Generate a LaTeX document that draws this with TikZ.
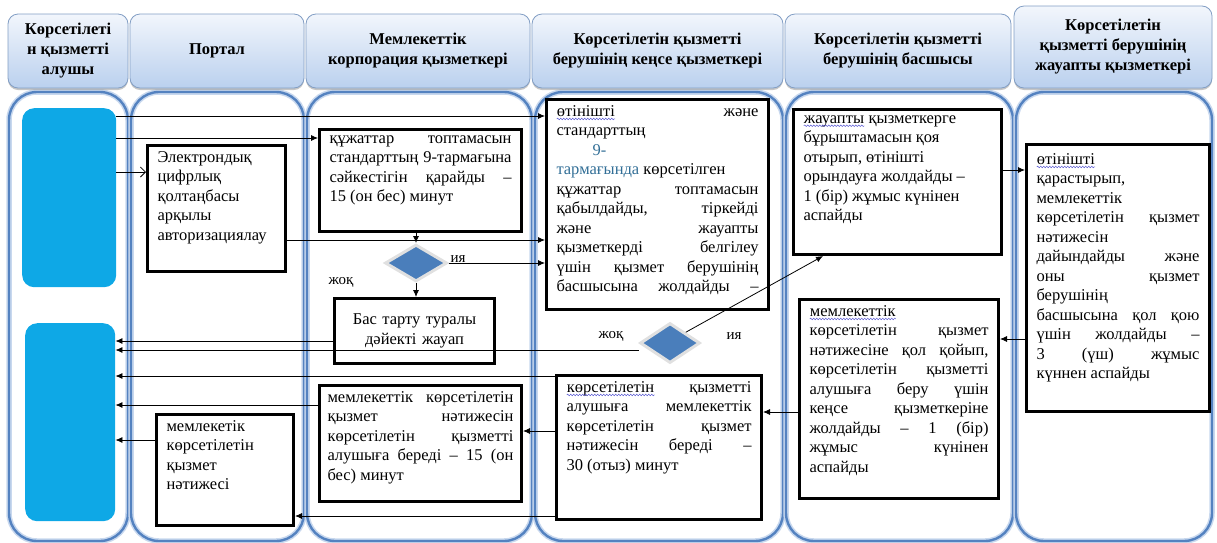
\documentclass[tikz,border=0pt]{standalone}
\usepackage{fontspec}
\setmainfont{Liberation Serif}
\usetikzlibrary{positioning,arrows.meta,shapes.geometric,shadows,decorations.pathmorphing}
\definecolor{lanecol}{RGB}{84,130,192}
\definecolor{laneglow}{RGB}{200,216,238}
\definecolor{headtop}{RGB}{242,246,252}
\definecolor{headbot}{RGB}{186,208,238}
\definecolor{headline}{RGB}{130,158,196}
\definecolor{actorblue}{RGB}{14,168,230}
\definecolor{decide}{RGB}{74,126,187}
\definecolor{tblue}{RGB}{49,110,150}
\definecolor{wavecol}{RGB}{90,90,210}
\tikzset{>={Latex[length=7pt,width=6pt]}}
\setlength\parindent{0pt}
\newcommand\spell[1]{\tikz[baseline=(sw.base)]{\node[inner sep=0pt] (sw) {#1};
  \draw[draw=wavecol,line width=.5pt,decorate,decoration={snake,amplitude=.8pt,segment length=3pt}]
  ([yshift=-2.5pt]sw.base west) -- ([yshift=-2.5pt]sw.base east);}}
\newcommand\boxtext[3]{\parbox[t][#2][t]{#1}{#3}}

\begin{document}
\begin{tikzpicture}[x=1pt,y=-1pt,
  lane/.style={draw=lanecol,line width=2.4pt,rounded corners=28pt,
    preaction={draw=laneglow,line width=5.5pt}},
  head/.style={draw=headline,line width=.8pt,rounded corners=10pt,
    top color=headtop,bottom color=headbot,
    drop shadow={opacity=.45,shadow xshift=0pt,shadow yshift=-2pt},
    font=\fontsize{16.5}{20}\selectfont\bfseries,align=center,inner sep=0pt},
  actor/.style={fill=actorblue,rounded corners=12pt,anchor=north west},
  proc/.style={draw,line width=3pt,anchor=north west,inner xsep=10pt,
    inner ysep=6pt,font=\fontsize{16.5}{19.5}\selectfont},
  decision/.style={diamond,draw=black!12,line width=3pt,fill=decide,inner sep=0pt},
  flow/.style={->,line width=.8pt},
  tag/.style={font=\fontsize{15}{17}\selectfont}]
\useasboundingbox (0,0) rectangle (1217,542);

\draw[lane] (9,92) rectangle (128,541);
\draw[lane] (131,92) rectangle (304,541);
\draw[lane] (307,92) rectangle (532,541);
\draw[lane] (535,92) rectangle (783,541);
\draw[lane] (786,92) rectangle (1013,541);
\draw[lane] (1016,92) rectangle (1212,541);

\node[head,minimum width=120pt,minimum height=74pt] (h1) at (68,51) {Көрсетілеті\\н қызметті\\алушы};
\node[head,minimum width=174pt,minimum height=74pt] (h2) at (217,51) {Портал};
\node[head,minimum width=224pt,minimum height=74pt] (h3) at (418,51) {Мемлекеттік\\корпорация қызметкері};
\node[head,minimum width=251pt,minimum height=74pt] (h4) at (657.5,51) {Көрсетілетін қызметті\\берушінің кеңсе қызметкері};
\node[head,minimum width=226pt,minimum height=74pt] (h5) at (898,51) {Көрсетілетін қызметті\\берушінің басшысы};
\node[head,minimum width=198pt,minimum height=82pt] (h6) at (1113,47) {Көрсетілетін\\қызметті берушінің\\жауапты қызметкері};

\node[actor,minimum width=94pt,minimum height=179pt] (b1) at (22,108) {};
\node[actor,minimum width=90pt,minimum height=198pt] (b2) at (25,323) {};

\node[proc] (elec) at (146,144) {\boxtext{118pt}{114pt}{Электрондық\\ цифрлық\\ қолтаңбасы\\ арқылы\\ авторизациялау}};
\node[proc] (check) at (318,128) {\boxtext{182pt}{90pt}{құжаттар топтамасын\linebreak стандарттың 9-тармағына\linebreak сәйкестігін қарайды –\linebreak 15 (он бес) минут}};
\node[proc] (reg) at (545,98) {\boxtext{202pt}{198pt}{\parfillskip=0pt
  \spell{өтінішті} және\linebreak стандарттың\\ \hspace*{36pt}\textcolor{tblue}{9-}\\
  \textcolor{tblue}{тармағында} көрсетілген\\ құжаттар топтамасын\linebreak
  қабылдайды, тіркейді\linebreak және жауапты\linebreak қызметкерді белгілеу\linebreak
  үшін қызмет берушінің\linebreak басшысына жолдайды –}};
\node[proc,text width=140pt,align=center,minimum height=65pt] (refuse) at (333,297) {Бас тарту туралы\\дәйекті жауап};
\node[proc] (resolve) at (792,108) {\boxtext{188pt}{133pt}{\spell{жауапты} қызметкерге\\ бұрыштамасын қоя\\ отырып, өтінішті\\ орындауға жолдайды –\\ 1 (бір) жұмыс күнінен\\ аспайды}};
\node[proc,inner ysep=9pt] (prepare) at (1025,143) {\boxtext{163pt}{249pt}{\spell{өтінішті}\\ қарастырып,\\ мемлекеттік\\ көрсетілетін қызмет\linebreak
  нәтижесін\\ дайындайды және\linebreak оны қызмет\linebreak берушінің\\ басшысына қол қою\linebreak
  үшін жолдайды –\linebreak 3 (үш) жұмыс\linebreak күннен аспайды}};
\node[proc] (sign) at (798,298) {\boxtext{179pt}{187pt}{\spell{мемлекеттік}\\ көрсетілетін қызмет\linebreak
  нәтижесіне қол қойып,\linebreak көрсетілетін қызметті\linebreak алушыға беру үшін\linebreak
  кеңсе қызметкеріне\linebreak жолдайды – 1 (бір)\linebreak жұмыс күнінен\linebreak аспайды}};
\node[proc] (issue) at (555,374) {\boxtext{185pt}{132pt}{\spell{көрсетілетін} қызметті\linebreak алушыға мемлекеттік\linebreak
  көрсетілетін қызмет\linebreak нәтижесін береді –\linebreak 30 (отыз) минут}};
\node[proc,inner xsep=8pt] (give) at (318,384) {\boxtext{186pt}{104pt}{мемлекеттік көрсетілетін\linebreak қызмет нәтижесін\linebreak
  көрсетілетін қызметті\linebreak алушыға береді – 15 (он\linebreak бес) минут}};
\node[proc] (result) at (155,413) {\boxtext{117pt}{99pt}{мемлекетік\\ көрсетілетін\\ қызмет\\ нәтижесі}};

\node[decision,minimum width=62pt,minimum height=37pt] (d1) at (416,263) {};
\node[decision,minimum width=60pt,minimum height=40pt] (d2) at (670,343) {};
\node[tag] (yes1) at (458,259) {ия};
\node[tag] (no1) at (341,282) {жоқ};
\node[tag] (no2) at (611,336) {жоқ};
\node[tag] (yes2) at (734,336) {ия};

\draw[flow] (b1.east |- 0,116) -- (reg.west |- 0,116);
\draw[flow] (b1.east |- 0,138) -- (check.west |- 0,138);
\draw[line width=.8pt,-{Straight Barb[length=5pt,width=10pt]}] (b1.east |- 0,172) -- (elec.west |- 0,172);
\draw[flow] (elec.east |- 0,240) -- (reg.west |- 0,240);
\draw[flow] (d1.north |- check.south) -- (d1.north);
\draw[flow] (d1.east) -- (d1.east -| reg.west);
\draw[flow] (d1.south) -- (d1.south |- refuse.north);
\draw[flow] (refuse.west |- 0,341) -- (b2.east |- 0,341);
\draw[flow] (d2.west |- 0,350) -- (b2.east |- 0,350);
\draw[flow] (issue.west |- 0,376) -- (b2.east |- 0,376);
\draw[flow] (give.west |- 0,405) -- (b2.east |- 0,405);
\draw[flow] (result.west |- 0,440) -- (b2.east |- 0,440);
\draw[flow] (issue.west |- 0,431) -- (give.east |- 0,431);
\draw[flow] (issue.west |- 0,516) -- (result.east |- 0,516);
\draw[flow] (sign.west |- 0,412) -- (issue.east |- 0,412);
\draw[flow] (prepare.west |- 0,339) -- (sign.east |- 0,339);
\draw[flow] (resolve.east |- 0,170) -- (prepare.west |- 0,170);
\draw[flow] (d2.north east) -- ([xshift=31pt]resolve.south west);
\end{tikzpicture}
\end{document}
